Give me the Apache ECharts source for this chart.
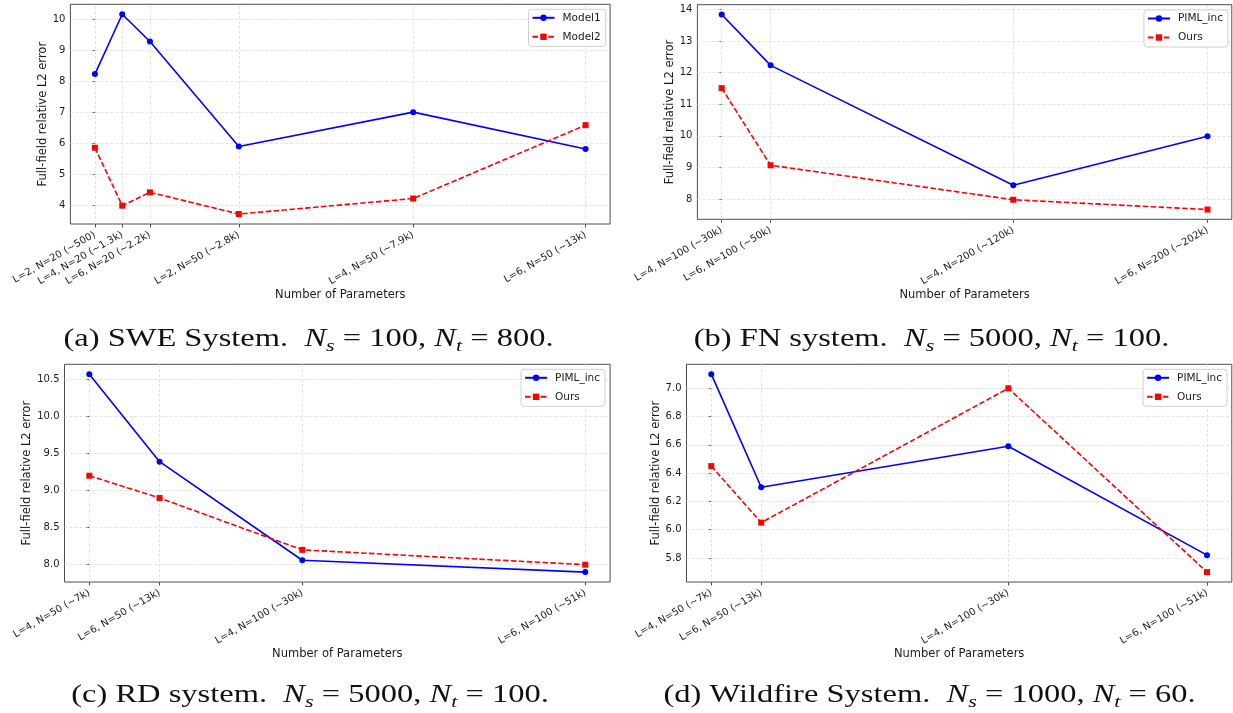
<!DOCTYPE html>
<html><head><meta charset="utf-8">
<script src="https://cdn.jsdelivr.net/npm/echarts@6/dist/echarts.min.js"></script>
<style>html,body{margin:0;padding:0;background:#fff}#c{width:1233px;height:713px}</style>
</head><body><div id="c"></div>
<script>
// ---------- data ----------
const aLabels = ['L=2, N=20 (~500)', 'L=4, N=20 (~1.3k)', 'L=6, N=20 (~2.2k)', 'L=2, N=50 (~2.8k)', 'L=4, N=50 (~7.9k)', 'L=6, N=50 (~13k)'];
const aX = [0, 27.3, 55.0, 143.9, 318.3, 490.7];
const aModel1 = [8.23, 10.16, 9.28, 5.89, 7.00, 5.81];
const aModel2 = [5.85, 3.98, 4.41, 3.71, 4.21, 6.58];
const aYTicks = [4, 5, 6, 7, 8, 9, 10];

const bLabels = ['L=4, N=100 (~30k)', 'L=6, N=100 (~50k)', 'L=4, N=200 (~120k)', 'L=6, N=200 (~202k)'];
const bX = [0, 48.9, 291.7, 486.0];
const bPIML = [13.84, 12.23, 8.44, 9.99];
const bOurs = [11.51, 9.07, 7.98, 7.67];
const bYTicks = [8, 9, 10, 11, 12, 13, 14];

const cLabels = ['L=4, N=50 (~7k)', 'L=6, N=50 (~13k)', 'L=4, N=100 (~30k)', 'L=6, N=100 (~51k)'];
const cX = [0, 70.3, 213.1, 496.2];
const cPIML = [10.57, 9.39, 8.06, 7.90];
const cOurs = [9.20, 8.90, 8.20, 8.00];
const cYTicks = [8.0, 8.5, 9.0, 9.5, 10.0, 10.5];

const dLabels = ['L=4, N=50 (~7k)', 'L=6, N=50 (~13k)', 'L=4, N=100 (~30k)', 'L=6, N=100 (~51k)'];
const dX = [0, 50.0, 297.5, 496.5];
const dPIML = [7.10, 6.30, 6.59, 5.82];
const dOurs = [6.45, 6.05, 7.00, 5.70];
const dYTicks = [5.8, 6.0, 6.2, 6.4, 6.6, 6.8, 7.0];

const captions = [
  '(a) SWE System.  {i|N}{s|s} = 100, {i|N}{s|t} = 800.',
  '(b) FN system.  {i|N}{s|s} = 5000, {i|N}{s|t} = 100.',
  '(c) RD system.  {i|N}{s|s} = 5000, {i|N}{s|t} = 100.',
  '(d) Wildfire System.  {i|N}{s|s} = 1000, {i|N}{s|t} = 60.'
];
const xName = 'Number of Parameters';
const yName = 'Full-field relative L2 error';

// ---------- layout ----------
const panels = [
  {labels: aLabels, x: aX, s1: aModel1, s2: aModel2, names: ['Model1', 'Model2'], yTicks: aYTicks, dec: 0,
   grid: {left: 70.4, top: 4.3, width: 539.7, height: 219.7}, legend: {right: 627.3, top: 9.3}, xGap: 65, yGap: 17.5,
   cap: {x: 308.5, y: 339}},
  {labels: bLabels, x: bX, s1: bPIML, s2: bOurs, names: ['PIML_inc', 'Ours'], yTicks: bYTicks, dec: 0,
   grid: {left: 697.4, top: 4.7, width: 534.4, height: 214.6}, legend: {right: 5.1, top: 10}, xGap: 69, yGap: 17,
   cap: {x: 931.5, y: 339}},
  {labels: cLabels, x: cX, s1: cPIML, s2: cOurs, names: ['PIML_inc', 'Ours'], yTicks: cYTicks, dec: 1,
   grid: {left: 64.5, top: 364.3, width: 545.6, height: 217.7}, legend: {right: 628, top: 369.3}, xGap: 65, yGap: 28,
   cap: {x: 310, y: 695}},
  {labels: dLabels, x: dX, s1: dPIML, s2: dOurs, names: ['PIML_inc', 'Ours'], yTicks: dYTicks, dec: 1,
   grid: {left: 686.5, top: 364.3, width: 545.3, height: 217.7}, legend: {right: 6, top: 369.3}, xGap: 65, yGap: 22,
   cap: {x: 929.6, y: 695}}
];

const TXT = '#1a1a1a';
const FRAME = '#4d4d4d';
const grids = [], xAxes = [], yAxes = [], series = [], legends = [], graphics = [];

panels.forEach((p, i) => {
  const tag = '#' + i;
  grids.push(Object.assign({show: true, borderColor: FRAME, borderWidth: 1, backgroundColor: 'transparent'}, p.grid));
  const xr = p.x[p.x.length - 1] - p.x[0];
  const all = p.s1.concat(p.s2);
  const ymin = Math.min(...all), ymax = Math.max(...all), yr = ymax - ymin;
  xAxes.push({
    type: 'value', gridIndex: i,
    min: p.x[0] - 0.05 * xr, max: p.x[p.x.length - 1] + 0.05 * xr,
    axisLine: {show: false},
    splitLine: {show: false},
    axisTick: {show: true, length: 3.5, lineStyle: {color: FRAME, width: 1}, customValues: p.x},
    axisLabel: {
      customValues: p.x, rotate: 30, margin: 10, fontSize: 10, color: TXT, fontFamily: 'DejaVu Sans',
      formatter: v => { const k = p.x.findIndex(t => Math.abs(t - v) < 1e-6); return k >= 0 ? p.labels[k] : ''; }
    },
    name: xName, nameLocation: 'middle', nameGap: p.xGap,
    nameTextStyle: {fontSize: 11.5, color: TXT, fontFamily: 'DejaVu Sans'}
  });
  yAxes.push({
    type: 'value', gridIndex: i,
    min: ymin - 0.05 * yr, max: ymax + 0.05 * yr,
    axisLine: {show: false},
    splitLine: {show: false},
    axisTick: {show: true, length: 3.5, lineStyle: {color: FRAME, width: 1}, customValues: p.yTicks},
    axisLabel: {customValues: p.yTicks, margin: 5, fontSize: 10, color: TXT, fontFamily: 'DejaVu Sans',
      formatter: v => Number(v).toFixed(p.dec)},
    name: yName, nameLocation: 'middle', nameGap: p.yGap, nameRotate: 90,
    nameTextStyle: {fontSize: 11.5, color: TXT, fontFamily: 'DejaVu Sans'}
  });
  // gridlines (drawn through the axes' own scales), kept beneath the data lines
  series.push({
    type: 'line', name: 'grid' + tag, xAxisIndex: i, yAxisIndex: i, data: [], z: 1, silent: true,
    markLine: {
      z: 1, silent: true, symbol: ['none', 'none'], animation: false, label: {show: false},
      lineStyle: {color: '#dcdcdc', type: [3, 2], width: 0.8},
      emphasis: {disabled: true},
      data: p.x.map(v => ({xAxis: v})).concat(p.yTicks.map(v => ({yAxis: v})))
    }
  });
  series.push({
    type: 'line', name: p.names[0] + tag, xAxisIndex: i, yAxisIndex: i, z: 6, animation: false,
    data: p.x.map((v, k) => [v, p.s1[k]]),
    symbol: 'circle', symbolSize: 6, showAllSymbol: true,
    lineStyle: {color: '#0000ff', width: 1.6},
    itemStyle: {color: '#0000ff', borderColor: '#0000ff', borderWidth: 0, opacity: 1}
  });
  series.push({
    type: 'line', name: p.names[1] + tag, xAxisIndex: i, yAxisIndex: i, z: 6, animation: false,
    data: p.x.map((v, k) => [v, p.s2[k]]),
    symbol: 'rect', symbolSize: 6, showAllSymbol: true,
    lineStyle: {color: '#ff0000', width: 1.6, type: [5.5, 2.4]},
    itemStyle: {color: '#ff0000', borderColor: '#ff0000', borderWidth: 0, opacity: 1}
  });
  legends.push(Object.assign({
    data: [p.names[0] + tag, p.names[1] + tag], orient: 'vertical', align: 'left', z: 10,
    formatter: n => n.split('#')[0],
    backgroundColor: '#fff', borderColor: '#d0d0d0', borderWidth: 1, borderRadius: 3,
    padding: [3, 5, 4, 3], itemGap: 8, itemWidth: 22, itemHeight: 8,
    textStyle: {fontSize: 10.5, color: TXT, fontFamily: 'DejaVu Sans', padding: [0, 0, 0, 3]},
    selectedMode: false
  }, p.legend));
  graphics.push({
    type: 'text', silent: true, x: p.cap.x, y: p.cap.y, scaleX: 1.3, scaleY: 1,
    style: {
      x: 0, y: 0, text: captions[i], align: 'center', verticalAlign: 'middle',
      fontFamily: 'Liberation Serif', fontSize: 25, fill: '#111', lineHeight: 32,
      rich: {
        i: {fontFamily: 'Liberation Serif', fontStyle: 'italic', fontSize: 25, lineHeight: 32},
        s: {fontFamily: 'Liberation Serif', fontStyle: 'italic', fontSize: 17, lineHeight: 12, verticalAlign: 'bottom'}
      }
    }
  });
});

const chart = echarts.init(document.getElementById('c'), null, {renderer: 'canvas'});
chart.setOption({
  animation: false,
  backgroundColor: '#fff',
  grid: grids, xAxis: xAxes, yAxis: yAxes, series: series, legend: legends, graphic: graphics
});
</script></body></html>
